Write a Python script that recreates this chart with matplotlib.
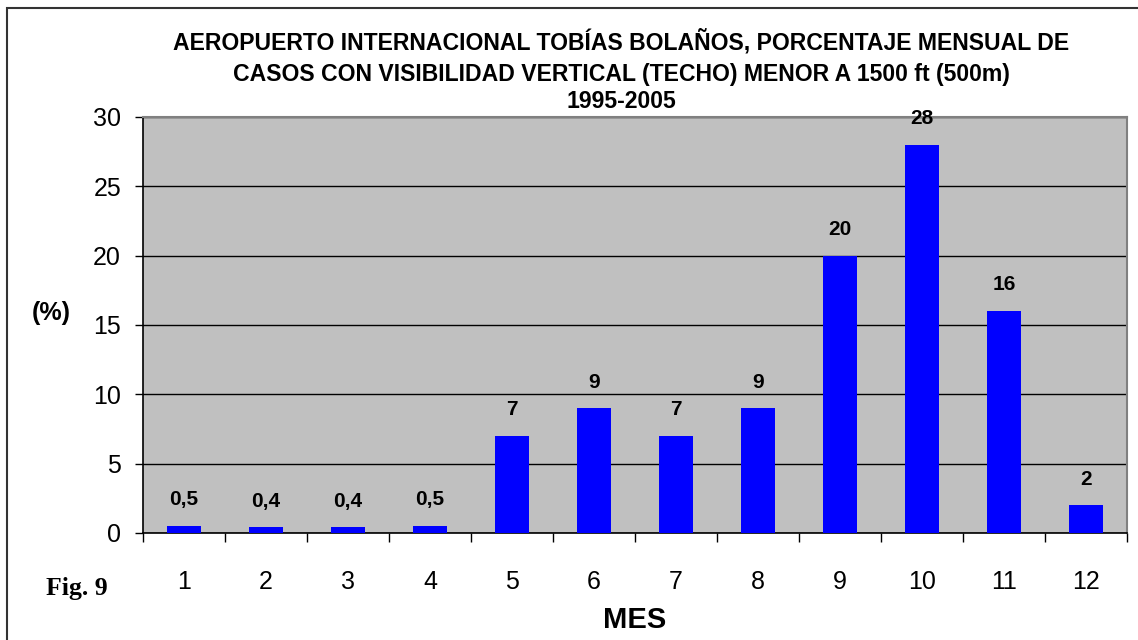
import matplotlib as mpl
mpl.use('Agg')

import numpy as np
import matplotlib.pyplot as plt
from matplotlib.patches import Rectangle

# ========================================================================================

meses = ["1", "2", "3", "4", "5", "6", "7", "8", "9", "10", "11", "12"]
porcentaje = [0.5, 0.4, 0.4, 0.5, 7, 9, 7, 9, 20, 28, 16, 2]
etiquetas = ["0,5", "0,4", "0,4", "0,5", "7", "9", "7", "9", "20", "28", "16", "2"]
y_ticks = [0, 5, 10, 15, 20, 25, 30]

titulo = ["AEROPUERTO INTERNACIONAL TOBÍAS BOLAÑOS, PORCENTAJE MENSUAL DE",
          "CASOS CON VISIBILIDAD VERTICAL (TECHO) MENOR A 1500 ft (500m)",
          "1995-2005"]

plt.rcParams['font.family'] = ['Liberation Sans', 'DejaVu Sans']

# ========================================================================================

fig = plt.figure(figsize=(11.38, 6.4), dpi=100)
ax = fig.add_axes([143 / 1138, 1 - 533 / 640, 984 / 1138, 416 / 640])
ax.set_facecolor("#C0C0C0")

x = np.arange(len(meses))
ax.bar(x, porcentaje, width=0.42, color="#0000FF", zorder=3)

for xi, val, lab in zip(x, porcentaje, etiquetas):
    ax.annotate(lab, (xi, val), xytext=(0, 12), textcoords="offset points",
                ha="center", va="bottom", fontsize=15, fontweight="bold")

ax.set_xlim(-0.5, len(meses) - 0.5)
ax.set_ylim(0, 30)
ax.set_yticks(y_ticks)
ax.yaxis.grid(True, color="black", linewidth=1)
ax.set_axisbelow(True)

# graduations entre categories, etiquettes au centre
ax.set_xticks(np.arange(-0.5, len(meses), 1))
ax.set_xticklabels([])
ax.set_xticks(x, minor=True)
ax.set_xticklabels(meses, minor=True, fontsize=18)
ax.tick_params(axis="x", which="major", direction="out", length=6.5, width=1)
ax.tick_params(axis="x", which="minor", length=0, pad=26.5)
ax.tick_params(axis="y", direction="out", length=5.8, width=1, pad=10, labelsize=18)

for side in ["top", "right"]:
    ax.spines[side].set_color("#808080")
    ax.spines[side].set_linewidth(1.5)
for side in ["left", "bottom"]:
    ax.spines[side].set_color("black")
    ax.spines[side].set_linewidth(1.2)

for ligne, y_px in zip(titulo, [42, 75, 102]):
    fig.text(621 / 1138, 1 - y_px / 640, ligne, ha="center", va="center",
             fontsize=16.6, fontweight="bold")

fig.text(635 / 1138, 1 - 620 / 640, "MES", ha="center", va="center",
         fontsize=21, fontweight="bold")
fig.text(51 / 1138, 1 - 313 / 640, "(%)", ha="center", va="center",
         fontsize=18, fontweight="bold")
fig.text(46 / 1138, 1 - 589 / 640, "Fig. 9", ha="left", va="center",
         fontsize=18.5, fontweight="bold", family="Liberation Serif")

# cadre exterieur
fig.patches.append(Rectangle((7 / 1138, -0.1), 1.2, 1 - 8 / 640 + 0.1,
                             transform=fig.transFigure, fill=False,
                             edgecolor="#333333", linewidth=1.5))

plt.savefig("out.png")
